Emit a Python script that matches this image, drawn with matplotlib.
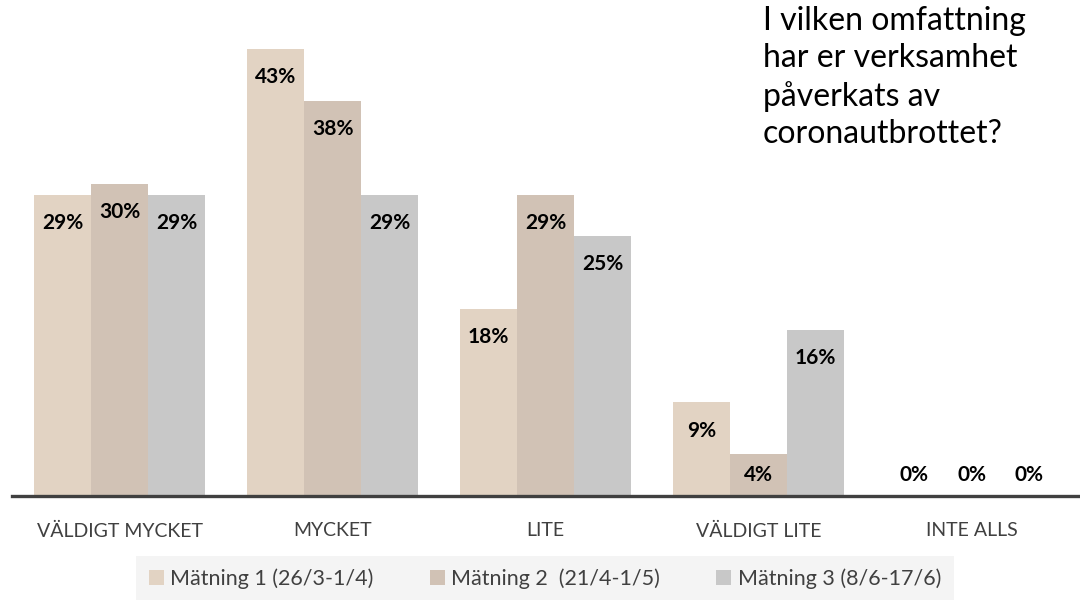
import numpy as np
import matplotlib
matplotlib.use("Agg")
import matplotlib.pyplot as plt

plt.rcParams['font.family'] = ['Lato', 'DejaVu Sans']

categories = ["VÄLDIGT MYCKET", "MYCKET", "LITE", "VÄLDIGT LITE", "INTE ALLS"]
series_names = ["Mätning 1 (26/3-1/4)", "Mätning 2  (21/4-1/5)", "Mätning 3 (8/6-17/6)"]
matning1 = [29, 43, 18, 9, 0]
matning2 = [30, 38, 29, 4, 0]
matning3 = [29, 29, 25, 16, 0]
colors = ["#E2D3C3", "#D1C2B5", "#C8C8C8"]

title = "I vilken omfattning\nhar er verksamhet\npåverkats av\ncoronautbrottet?"

fig = plt.figure(figsize=(10.8, 6), dpi=100)
ax = fig.add_axes([12 / 1080, 104 / 600, 1066 / 1080, 457.4 / 600])

x = np.arange(len(categories))
w = 0.268
for i, (vals, name, c) in enumerate(zip([matning1, matning2, matning3], series_names, colors)):
    pos = x + (i - 1) * w
    ax.bar(pos, vals, width=w, color=c, label=name, zorder=2)
    for px, v in zip(pos, vals):
        ax.text(px, max(v - 2.7, 2.0), f"{v}%", ha="center", va="center",
                fontsize=15, fontweight="bold", color="black", zorder=3)

ax.set_xlim(-0.505, 4.5)
ax.set_ylim(0, 44)
ax.set_yticks([])
ax.set_xticks(x)
ax.set_xticklabels(categories, fontsize=14, color="#404040")
ax.tick_params(axis="x", length=0, pad=19)
for s in ["top", "right", "left"]:
    ax.spines[s].set_visible(False)
ax.spines["bottom"].set_color("#404040")
ax.spines["bottom"].set_linewidth(2.4)
ax.spines["bottom"].set_zorder(4)

fig.text(763 / 1080, 1 - 6 / 600, title, ha="left", va="top", fontsize=23,
         color="black", linespacing=1.3)

leg = fig.legend(loc="center", bbox_to_anchor=(545 / 1080, 21 / 600), ncol=3,
                 frameon=True, fontsize=15.5, handlelength=0.7, handleheight=0.7,
                 handletextpad=0.3, columnspacing=2.6, borderpad=0.6, fancybox=False)
leg.get_frame().set_facecolor("#F2F2F2")
leg.get_frame().set_edgecolor("none")
for t in leg.get_texts():
    t.set_color("#404040")

fig.savefig("out.png", dpi=100)
